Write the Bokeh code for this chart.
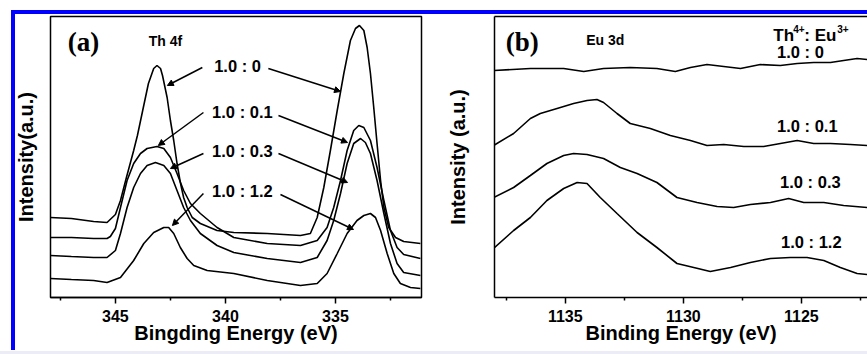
from bokeh.plotting import figure
from bokeh.models import Range1d, FixedTicker, LinearAxis, Label, Arrow, NormalHead
from bokeh.layouts import row
from bokeh.embed import file_html
from bokeh.resources import INLINE

# ---------------- data: panel (a) Th 4f ----------------
a_ratio_labels = ["1.0 : 0", "1.0 : 0.1", "1.0 : 0.3", "1.0 : 1.2"]

a0_x = [347.95, 347.0, 345.99, 345.38, 345.0, 344.77, 344.5, 344.17, 344.0, 343.76, 343.5, 343.26,
        343.11, 342.95, 342.86, 342.65, 342.5, 342.35, 342.2, 342.05, 341.9, 341.74, 341.51, 341.14,
        340.38, 339.62, 338.1, 336.59, 336.14, 335.83, 335.53, 335.23, 334.92, 334.62, 334.32, 334.09,
        333.91, 333.71, 333.56, 333.41, 333.26, 333.11, 332.95, 332.8, 332.58, 332.27, 331.9, 331.14]
a0_y = [80, 79, 76, 75, 83, 97, 120, 147, 162, 187, 214, 229,
        232, 229, 222, 200, 177, 157, 134, 115, 100, 90, 80, 74,
        67, 65, 64, 62, 64, 80, 110, 147, 187, 224, 257, 269,
        272, 267, 250, 224, 190, 154, 117, 90, 70, 60, 56, 54]

a1_x = [347.95, 347.0, 345.99, 345.38, 345.23, 345.0, 344.77, 344.47, 344.17, 343.86, 343.56, 343.11,
        342.8, 342.5, 342.2, 341.9, 341.59, 341.14, 340.38, 339.62, 338.1, 336.59, 335.83, 335.38,
        335.08, 334.77, 334.47, 334.17, 333.94, 333.71, 333.41, 333.11, 332.8, 332.5, 332.2, 331.9, 331.14]
a1_y = [60, 60, 59, 59, 61, 69, 90, 117, 134, 144, 149, 151,
        149, 140, 124, 107, 94, 84, 70, 60, 54, 52, 57, 70,
        90, 117, 147, 167, 172, 170, 157, 130, 97, 67, 50, 43, 39]

a3_x = [347.95, 347.0, 345.99, 345.38, 345.0, 344.77, 344.47, 344.17, 343.86, 343.56, 343.18, 342.8,
        342.5, 342.2, 341.9, 341.59, 341.14, 340.38, 339.62, 338.1, 336.59, 335.83, 335.38, 335.08,
        334.77, 334.47, 334.17, 333.86, 333.64, 333.41, 333.11, 332.8, 332.5, 332.2, 331.9, 331.14]
a3_y = [42, 41, 40, 40, 47, 64, 90, 110, 124, 132, 135, 132,
        124, 107, 90, 77, 64, 52, 45, 39, 35, 40, 57, 77,
        104, 134, 154, 159, 155, 144, 117, 84, 54, 34, 25, 22]

a12_x = [347.95, 347.0, 345.99, 345.38, 344.77, 344.17, 343.71, 343.26, 342.8, 342.58, 342.35, 342.05,
         341.74, 341.44, 340.83, 339.62, 338.1, 336.59, 335.83, 335.38, 334.92, 334.47, 334.02, 333.71,
         333.41, 333.18, 332.95, 332.65, 332.35, 332.05, 331.59, 331.14]
a12_y = [19, 18, 17, 15, 20, 37, 54, 65, 70, 70, 64, 50,
         39, 32, 27, 24, 17, 12, 14, 24, 44, 64, 77, 82,
         84, 80, 67, 44, 24, 14, 10, 9]

a_ticks = [345, 340, 335]
a_minor = [347.5, 342.5, 337.5, 332.5]

# ---------------- data: panel (b) Eu 3d ----------------
b0_x = [1138.04, 1136.48, 1135.07, 1134.22, 1133.38, 1132.25, 1131.12, 1130.34, 1129.7, 1129.0,
        1128.29, 1127.58, 1126.74, 1125.89, 1125.18, 1124.48, 1123.77, 1123.21, 1122.64, 1122.2]
b0_y = [227, 229, 229, 226, 229, 230, 229, 226, 230, 233,
        231, 229, 233, 232, 234, 235, 235, 237, 239, 238]

b1_x = [1138.04, 1137.19, 1136.48, 1136.06, 1135.35, 1134.65, 1134.08, 1133.66, 1133.38, 1132.81,
        1132.25, 1131.4, 1130.55, 1129.7, 1129.0, 1128.29, 1127.44, 1126.6, 1125.89, 1125.18,
        1124.48, 1123.77, 1122.92, 1122.2]
b1_y = [152, 164, 179, 184, 189, 194, 197, 198, 195, 184,
        174, 169, 162, 157, 152, 153, 151, 151, 154, 157,
        154, 154, 153, 152]

b3_x = [1138.04, 1137.19, 1136.48, 1135.78, 1135.07, 1134.65, 1134.08, 1133.38, 1132.67, 1131.96,
        1131.12, 1130.27, 1129.42, 1128.57, 1127.87, 1127.16, 1126.31, 1125.54, 1124.9, 1124.05,
        1123.21, 1122.2]
b3_y = [100, 110, 122, 134, 142, 144, 143, 139, 130, 124,
        115, 100, 95, 91, 90, 93, 95, 99, 95, 95,
        92, 90]

b12_x = [1138.04, 1137.19, 1136.48, 1135.78, 1135.07, 1134.5, 1134.08, 1133.52, 1132.81, 1131.96,
         1131.12, 1130.27, 1129.56, 1128.86, 1128.0, 1127.16, 1126.31, 1125.47, 1124.76, 1124.05,
         1123.35, 1122.64, 1122.2]
b12_y = [49, 67, 80, 97, 109, 115, 114, 100, 84, 65,
         50, 34, 30, 26, 30, 35, 39, 40, 40, 37,
         30, 24, 23]

b_ticks = [1135, 1130, 1125]
b_minor = [1137.5, 1132.5, 1127.5, 1122.5]

FONT = "Liberation Sans"
BLUE = "#0000ff"
LAV = "#ececf7"
LW = 1.6


def style_xaxis(ax, ticks, minor):
    ax.ticker = FixedTicker(ticks=ticks, minor_ticks=minor)
    ax.axis_line_color = "black"
    ax.axis_line_width = 1.5
    ax.major_tick_line_color = "black"
    ax.major_tick_line_width = 1.5
    ax.major_tick_out = 6
    ax.major_tick_in = 0
    ax.minor_tick_line_color = "black"
    ax.minor_tick_line_width = 1.5
    ax.minor_tick_out = 3
    ax.minor_tick_in = 0
    ax.major_label_text_font = FONT
    ax.major_label_text_font_style = "bold"
    ax.major_label_text_font_size = "16px"
    ax.major_label_text_color = "black"
    ax.major_label_standoff = 6
    ax.axis_label_text_font = FONT
    ax.axis_label_text_font_style = "bold"
    ax.axis_label_text_font_size = "20px"
    ax.axis_label_text_color = "black"
    ax.axis_label_standoff = -3


def style_yaxis(ax, line, standoff):
    ax.ticker = FixedTicker(ticks=[])
    ax.axis_line_color = "black" if line else None
    ax.axis_line_width = 1.5
    ax.major_tick_out = 0
    ax.major_tick_in = 0
    ax.minor_tick_out = 0
    ax.minor_tick_in = 0
    ax.major_label_standoff = 0
    ax.axis_label_text_font = FONT
    ax.axis_label_text_font_style = "bold"
    ax.axis_label_text_font_size = "20px"
    ax.axis_label_text_color = "black"
    ax.axis_label_standoff = standoff


def add_text(p, x, y, text, size="16.5px", font=FONT, x_offset=0, y_offset=0, align="center",
             baseline="middle"):
    p.add_layout(Label(x=x, y=y, text=text, text_font=font, text_font_style="bold",
                       text_font_size=size, text_color="black", text_align=align,
                       text_baseline=baseline, x_offset=x_offset, y_offset=y_offset))


# blue page border painted as CSS backgrounds behind the transparent canvases
style_a = {
    "background-color": "white",
    "background-image": (f"linear-gradient({BLUE},{BLUE}), linear-gradient({BLUE},{BLUE}), "
                         f"linear-gradient({LAV},{LAV})"),
    "background-size": "4px 340px, 100% 4px, 100% 3px",
    "background-position": "11px 10px, 11px 10px, 0px 351px",
    "background-repeat": "no-repeat",
}
style_b = {
    "background-color": "white",
    "background-image": f"linear-gradient({BLUE},{BLUE}), linear-gradient({LAV},{LAV})",
    "background-size": "100% 4px, 100% 3px",
    "background-position": "0px 10px, 0px 351px",
    "background-repeat": "no-repeat",
}

# ---------------- panel (a) ----------------
pa = figure(width=440, height=354, output_backend="svg", toolbar_location=None,
            x_range=Range1d(347.95, 331.09), y_range=Range1d(0, 281),
            min_border_left=50, min_border_right=19, min_border_top=16, min_border_bottom=57,
            styles=style_a)
pa.grid.visible = False
pa.outline_line_color = "black"
pa.outline_line_width = 1.5
pa.background_fill_color = "white"
pa.border_fill_color = None
pa.xaxis.axis_label = "Bingding Energy (eV)"
pa.yaxis.axis_label = "Intensity(a.u.)"
style_xaxis(pa.xaxis[0], a_ticks, a_minor)
style_yaxis(pa.yaxis[0], False, 14)

for xs, ys in [(a0_x, a0_y), (a1_x, a1_y), (a3_x, a3_y), (a12_x, a12_y)]:
    pa.line(xs, ys, line_color="black", line_width=LW)

add_text(pa, 346.45, 256, "(a)", size="27px", font="Liberation Serif")
add_text(pa, 342.73, 257, "Th 4f", size="14px")

a_label_pos = [(339.45, 232), (339.23, 186), (339.23, 147), (339.23, 107)]
for (lx, ly), txt in zip(a_label_pos, a_ratio_labels):
    add_text(pa, lx, ly, txt)

a_arrows = [
    (341.05, 230, 342.64, 212), (338.05, 229, 334.77, 206),
    (341.0, 185, 343.05, 152), (337.59, 182, 334.45, 155),
    (341.0, 144, 342.5, 129), (337.59, 144, 334.45, 115),
    (341.0, 104, 342.41, 72), (337.5, 103, 334.18, 68),
]
for xs_, ys_, xe, ye in a_arrows:
    pa.add_layout(Arrow(end=NormalHead(size=6, fill_color="black", line_color="black"),
                        x_start=xs_, y_start=ys_, x_end=xe, y_end=ye,
                        line_color="black", line_width=1.5))

# ---------------- panel (b) ----------------
pb = figure(width=427, height=354, output_backend="svg", toolbar_location=None,
            x_range=Range1d(1138.0, 1122.2), y_range=Range1d(0, 281),
            min_border_left=54, min_border_right=0, min_border_top=16, min_border_bottom=57,
            styles=style_b)
pb.grid.visible = False
pb.outline_line_color = None
pb.background_fill_color = "white"
pb.border_fill_color = None
pb.xaxis.axis_label = "Binding Energy (eV)"
pb.yaxis.axis_label = "Intensity (a.u.)"
style_xaxis(pb.xaxis[0], b_ticks, b_minor)
style_yaxis(pb.yaxis[0], True, 26)

top_axis = LinearAxis(ticker=FixedTicker(ticks=[]))
top_axis.axis_line_color = "black"
top_axis.axis_line_width = 1.5
top_axis.major_tick_out = 0
top_axis.major_tick_in = 0
top_axis.minor_tick_out = 0
top_axis.minor_tick_in = 0
top_axis.major_label_standoff = 0
pb.add_layout(top_axis, "above")

for xs, ys in [(b0_x, b0_y), (b1_x, b1_y), (b3_x, b3_y), (b12_x, b12_y)]:
    pb.line(xs, ys, line_color="black", line_width=LW)

add_text(pb, 1136.82, 256, "(b)", size="27px", font="Liberation Serif")
add_text(pb, 1133.31, 258, "Eu 3d", size="14px")

# "Th4+: Eu3+" header built from pieces
hx, hy = 1126.19, 262
add_text(pb, hx, hy, "Th", size="17px", align="left", baseline="alphabetic")
add_text(pb, hx, hy, "4+", size="10px", align="left", baseline="alphabetic", x_offset=20, y_offset=7)
add_text(pb, hx, hy, ": Eu", size="17px", align="left", baseline="alphabetic", x_offset=31)
add_text(pb, hx, hy, "3+", size="10px", align="left", baseline="alphabetic", x_offset=64, y_offset=7)

b_label_pos = [(1125.04, 246), (1124.75, 172), (1124.62, 116), (1124.58, 56)]
for (lx, ly), txt in zip(b_label_pos, a_ratio_labels):
    add_text(pb, lx, ly, txt)

layout = row(pa, pb)

open("out.html", "w").write(file_html(layout, INLINE))
